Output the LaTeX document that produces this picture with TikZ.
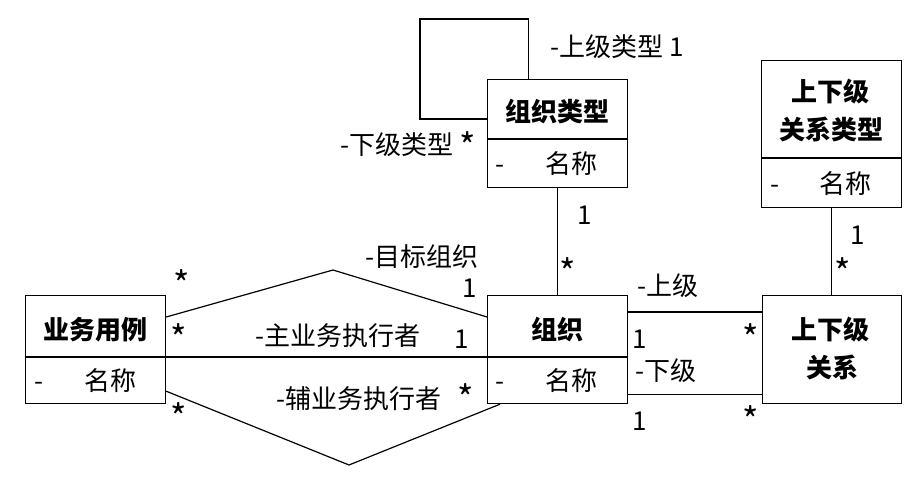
\documentclass[tikz,border=0pt]{standalone}
\usepackage{fontspec}
\setmainfont{Noto Sans CJK SC}
\newcommand{\mystar}{\raisebox{-5pt}{\scalebox{1.35}{*}}}
\begin{document}
\begin{tikzpicture}[x=1pt,y=-1pt, line width=1.2pt,
  box/.style={draw, rectangle, minimum width=140pt, minimum height=108pt, inner sep=0pt, anchor=north west},
  txt/.style={anchor=base, inner sep=0pt, font=\fontsize{26}{30}\selectfont},
  ttl/.style={txt, font=\fontsize{26}{30}\selectfont\bfseries}]
\useasboundingbox (0,0) rectangle (916,497);

% boxes
\node[box] (zzlx) at (487,79) {};
\node[box] (yw) at (25,295) {};
\node[box] (zz) at (487,295) {};
\node[box, minimum width=139pt] (gx) at (762,295) {};
\node[box, minimum height=147pt] (gxlx) at (761,60) {};

% dividers
\draw ([yshift=-60pt]zzlx.north west) -- ([yshift=-60pt]zzlx.north east);
\draw ([yshift=-62pt]yw.north west) -- ([yshift=-62pt]yw.north east);
\draw ([yshift=-62pt]zz.north west) -- ([yshift=-62pt]zz.north east);
\draw ([yshift=-98pt]gxlx.north west) -- ([yshift=-98pt]gxlx.north east);

% box texts
\node[ttl] (t1) at (557,122) {组织类型};
\node[txt] (d1) at (500,174) {-};
\node[txt] (a1) at (571,174) {名称};

\node[ttl] (t2) at (95,339) {业务用例};
\node[txt] (d2) at (39,390) {-};
\node[txt] (a2) at (110,390) {名称};

\node[ttl] (t3) at (557,339) {组织};
\node[txt] (d3) at (500,390) {-};
\node[txt] (a3) at (571,390) {名称};

\node[ttl] (t4a) at (830,339) {上下级};
\node[ttl] (t4b) at (832,377) {关系};

\node[ttl] (t5a) at (830,102) {上下级};
\node[ttl] (t5b) at (831,140) {关系类型};
\node[txt] (d5) at (775,194) {-};
\node[txt] (a5) at (845,194) {名称};

% connectors
\draw ([xshift=-29pt]zzlx.north) |- (420,19) |- ([yshift=-40pt]zzlx.north west);
\draw (zzlx.south) -- (zz.north);
\draw (gxlx.south) -- (gxlx.south |- gx.north);
\draw ([yshift=-17pt]zz.north east) -- ([yshift=-17pt]gx.north west);
\draw ([yshift=10pt]zz.south east) -- ([yshift=10pt]gx.south west);
\draw ([yshift=-62pt]yw.north east) -- ([yshift=-62pt]zz.north west);
\coordinate (up) at (333,270);
\coordinate (lo) at (349,465);
\draw ([yshift=-22pt]yw.north east) -- (up) -- ([yshift=-22pt]zz.north west);
\draw ([yshift=13pt]yw.south east) -- (lo) -- ([xshift=13pt]zz.south west);

% labels
\node[txt] (l1) at (617,57) {-上级类型 1};
\node[txt] (l2) at (408,155) {-下级类型 \mystar};
\node[txt] (l3) at (585,225) {1};
\node[txt] (l4) at (568,280) {\mystar};
\node[txt] (l5) at (858,245) {1};
\node[txt] (l6) at (843,280) {\mystar};
\node[txt] (l7) at (668,295) {-上级};
\node[txt] (l8) at (640,348) {1};
\node[txt] (l9) at (751,346) {\mystar};
\node[txt] (l10) at (666,380) {-下级};
\node[txt] (l11) at (640,430) {1};
\node[txt] (l12) at (751,428) {\mystar};
\node[txt] (l13) at (422,266) {-目标组织};
\node[txt] (l14) at (470,298) {1};
\node[txt] (l15) at (182,293) {\mystar};
\node[txt] (l16) at (179,346) {\mystar};
\node[txt] (l17) at (338,345) {-主业务执行者};
\node[txt] (l18) at (462,348) {1};
\node[txt] (l19) at (359,408) {-辅业务执行者};
\node[txt] (l20) at (466,406) {\mystar};
\node[txt] (l21) at (179,425) {\mystar};
\end{tikzpicture}
\end{document}
